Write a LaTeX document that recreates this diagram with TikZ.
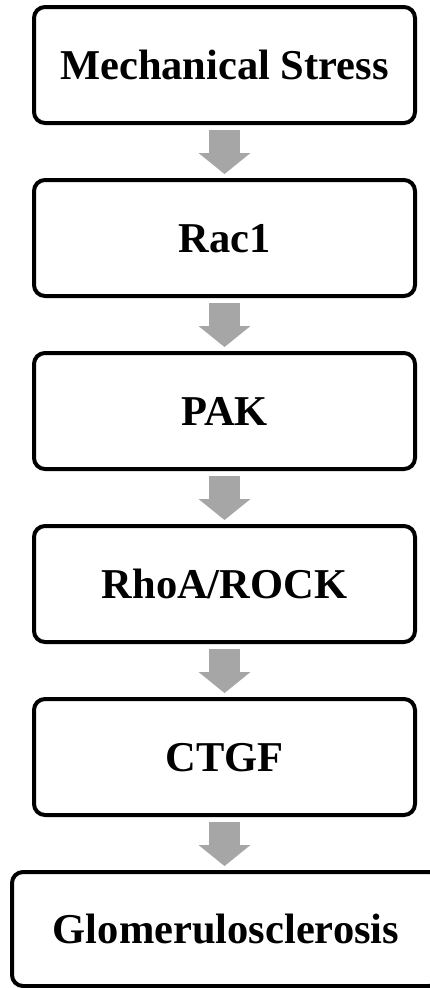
\documentclass[tikz,border=0pt]{standalone}
\usepackage{fontspec}
\setmainfont{Liberation Serif}
\usetikzlibrary{arrows.meta,calc}

\definecolor{flowgray}{RGB}{166,166,166}

\tikzset{
  stage/.style={draw=black, line width=4pt, rounded corners=11pt, fill=white,
    minimum width=381pt, minimum height=116pt, inner sep=0pt,
    text height=28pt, text depth=0pt,
    font=\fontsize{42.5}{50}\selectfont\bfseries},
  flow/.style={draw=flowgray, line width=31pt,
    -{Triangle[length=21pt,width=52pt,line width=0pt]}}
}

\begin{document}
\begin{tikzpicture}[x=1pt,y=-1pt]
  \useasboundingbox[fill=white] (0,0) rectangle (429,988);

  % pathway stages
  \node[stage] (ms)   at (224.5,65)  {Mechanical Stress};
  \node[stage] (rac)  at (224.5,238) {Rac1};
  \node[stage] (pak)  at (224.5,411) {PAK};
  \node[stage] (rho)  at (224.5,584) {RhoA/ROCK};
  \node[stage] (ctgf) at (224.5,757) {CTGF};
  % last stage is wider and runs past the right edge
  \node[stage, minimum width=428pt, minimum height=114pt]
    (glom) at (226,929) {Glomerulosclerosis};

  % block arrows between stages, kept on the column's axis
  \foreach \a/\b in {ms/rac, rac/pak, pak/rho, rho/ctgf, ctgf/glom}
    \draw[flow] ($(\a.south)+(0,5)$) -- ($(\a.south |- \b.north)+(0,-4)$);
\end{tikzpicture}
\end{document}
